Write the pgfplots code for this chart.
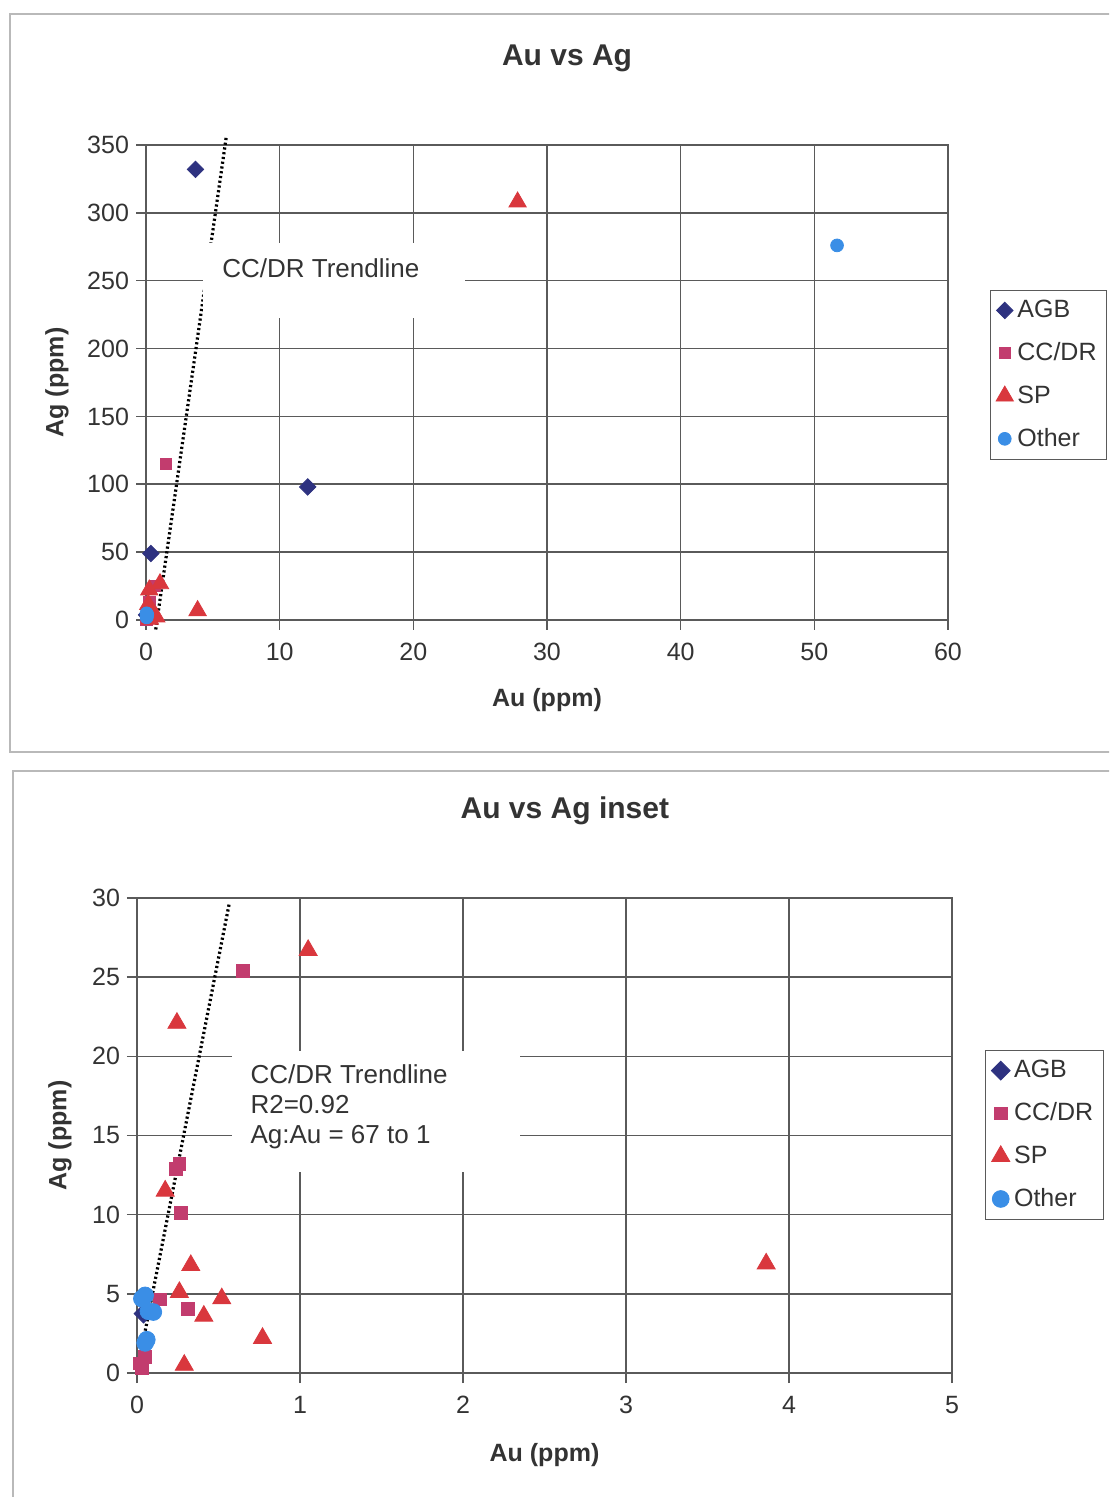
\documentclass[border=0pt]{standalone}
\usepackage{fontspec}
\setmainfont{Liberation Sans}
\usepackage{pgfplots}
\pgfplotsset{compat=1.18}

\definecolor{agb}{HTML}{2E3280}
\definecolor{ccdr}{HTML}{C23C6E}
\definecolor{sp}{HTML}{D9373D}
\definecolor{other}{HTML}{3A8EE6}
\definecolor{gridc}{HTML}{5A5A5A}
\definecolor{txt}{HTML}{333333}

\newcommand{\fs}{\fontsize{12.5}{15}\selectfont}

\pgfplotsset{
  oreplot/.style={
    scale only axis,
    axis line style={gridc, line width=0.8pt},
    grid=major,
    major grid style={gridc, line width=0.8pt},
    tick align=outside,
    tick pos=left,
    major tick length=5pt,
    tick style={gridc, line width=0.8pt},
    ticklabel style={font=\fs, text=txt},
    xticklabel style={yshift=-3pt},
    /pgf/number format/assume math mode=true,
    label style={font=\fs\bfseries, text=txt},
    title style={font=\fontsize{15}{18}\selectfont\bfseries, text=txt,
      at={(axis description cs:0.525,1.158)}, anchor=center},
    legend style={draw=gridc, fill=white, font=\fs, text=txt,
      inner sep=3pt, row sep=7pt, anchor=north west},
    legend cell align=left,
  },
  agbm/.style={only marks, mark=square*, mark size=#1, mark options={rotate=45, fill=agb, draw=agb}},
  ccdrm/.style={only marks, mark=square*, mark size=#1, mark options={fill=ccdr, draw=ccdr}},
  spm/.style={only marks, mark=triangle*, mark size=#1, mark options={fill=sp, draw=sp}},
  otherm/.style={only marks, mark=*, mark size=#1, mark options={fill=other, draw=other}},
  trend/.style={black, line width=1.6pt, dash pattern=on 1.1pt off 1.3pt},
}

\begin{document}
\begin{tikzpicture}
\useasboundingbox (0,0) rectangle (554.5pt,748.5pt);
\clip (0,0) rectangle (554.5pt,748.5pt);

% chart frames
\draw[gray!55, line width=1pt] (5pt,372.5pt) rectangle (565pt,741.5pt);
\draw[gray!55, line width=1pt] (6.5pt,-10pt) rectangle (565pt,363pt);

% ---------- Au vs Ag ----------
\begin{axis}[
  oreplot,
  clip=false,
  at={(73pt,438.5pt)}, anchor=south west,
  width=401pt, height=237.5pt,
  xmin=0, xmax=60, ymin=0, ymax=350,
  xtick={0,10,...,60}, ytick={0,50,...,350},
  title={Au vs Ag},
  xlabel={Au (ppm)}, ylabel={Ag (ppm)},
  xlabel style={at={(axis description cs:0.5,-0.168)}, anchor=center},
  ylabel style={at={(axis description cs:-0.111,0.5)}, anchor=center},
  legend style={at={(axis description cs:1.052,0.695)}},
]
\addplot[trend, forget plot] coordinates {(0.73,-7) (6.02,357)};
\fill[white] (axis cs:4.26,222.5) rectangle (axis cs:23.86,277.8);
\node[anchor=west, font=\fontsize{13}{15}\selectfont, text=txt, inner sep=0pt] at (axis cs:5.68,259.4) {CC/DR Trendline};

\addplot[agbm=2.9pt] coordinates {(3.7,332) (12.1,98) (0.37,49) (0.04,3.75)};
\addlegendentry{AGB}
\addplot[ccdrm=2.8pt] coordinates {
  (1.5,115) (0.65,25.4) (0.26,13.2) (0.24,12.9) (0.27,10.1)
  (0.14,4.65) (0.31,4.07) (0.05,1.0) (0.03,0.3) (0.02,0.6)};
\addlegendentry{CC/DR}
\addplot[spm=5pt] coordinates {
  (27.8,308) (3.86,6.9) (1.05,26.7) (0.245,22.1) (0.173,11.5)
  (0.33,6.8) (0.26,5.1) (0.52,4.7) (0.41,3.6) (0.77,2.2) (0.29,0.5)};
\addlegendentry{SP}
\addplot[otherm=3.2pt] coordinates {
  (51.7,276) (0.05,4.9) (0.03,4.7) (0.1,3.85) (0.07,3.9) (0.06,2.1) (0.05,1.9)};
\addlegendentry{Other}
\end{axis}

% ---------- Au vs Ag inset ----------
\begin{axis}[
  oreplot,
  at={(68.5pt,62pt)}, anchor=south west,
  width=407.5pt, height=237.5pt,
  xmin=0, xmax=5, ymin=0, ymax=30,
  xtick={0,1,...,5}, ytick={0,5,...,30},
  title={Au vs Ag inset},
  xlabel={Au (ppm)}, ylabel={Ag (ppm)},
  xlabel style={at={(axis description cs:0.5,-0.173)}, anchor=center},
  ylabel style={at={(axis description cs:-0.0945,0.5)}, anchor=center},
  legend style={at={(axis description cs:1.0405,0.68)}},
]
\addplot[trend, forget plot] coordinates {(-0.012,-0.6) (0.565,29.6)};
\fill[white] (axis cs:0.584,12.68) rectangle (axis cs:2.347,20.32);
\node[anchor=west, align=left, font=\fontsize{13}{15}\selectfont, text=txt, inner sep=0pt] at (axis cs:0.694,16.84)
  {CC/DR Trendline\\R2=0.92\\Ag:Au = 67 to 1};

\addplot[agbm=3.3pt] coordinates {(3.7,332) (12.1,98) (0.37,49) (0.04,3.75)};
\addlegendentry{AGB}
\addplot[ccdrm=3.2pt] coordinates {
  (1.5,115) (0.65,25.4) (0.26,13.2) (0.24,12.9) (0.27,10.1)
  (0.14,4.65) (0.31,4.07) (0.05,1.0) (0.03,0.3) (0.02,0.6)};
\addlegendentry{CC/DR}
\addplot[spm=5.2pt] coordinates {
  (27.8,308) (3.86,6.9) (1.05,26.7) (0.245,22.1) (0.173,11.5)
  (0.33,6.8) (0.26,5.1) (0.52,4.7) (0.41,3.6) (0.77,2.2) (0.29,0.5)};
\addlegendentry{SP}
\addplot[otherm=4.2pt] coordinates {
  (51.7,276) (0.05,4.9) (0.03,4.7) (0.1,3.85) (0.07,3.9) (0.06,2.1) (0.05,1.9)};
\addlegendentry{Other}
\end{axis}
\end{tikzpicture}
\end{document}
